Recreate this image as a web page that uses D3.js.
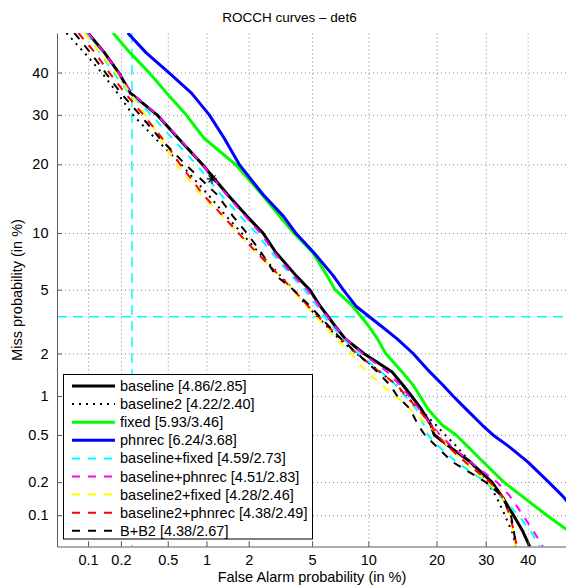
<!DOCTYPE html>
<html>
<head>
<meta charset="utf-8">
<script src="https://cdn.jsdelivr.net/npm/d3@7"></script>
<style>
  body { margin: 0; background: #fff; }
  svg { display: block; font-family: "Liberation Sans", Arial, Helvetica, sans-serif; }
</style>
</head>
<body>
<div id="det"></div>
<script>
// miss probabilities (in %) at which the curves were read
var missLevels = [50, 45, 40, 35, 30, 25, 20, 15, 12, 10, 8, 6, 5, 4, 3, 2.5, 2, 1.5, 1.2, 1,
                  0.8, 0.6, 0.5, 0.4, 0.3, 0.2, 0.15, 0.1, 0.07, 0.05];

// false alarm probabilities (in %) of every system, one per miss level
var baselineFa    = [0.1, 0.142, 0.191, 0.243, 0.408, 0.607, 0.93, 1.43, 1.95, 2.49, 3.01, 4.02, 4.84, 5.57, 6.76, 7.63, 9.49, 12.92, 14.51, 15.78,
                     17.35, 19.0, 19.6, 22.47, 26.6, 31.4, 33.7, 36.5, 38.8, 40.5];
var baseline2Fa   = [0.062, 0.092, 0.134, 0.186, 0.255, 0.393, 0.639, 1.03, 1.40, 1.79, 2.32, 3.22, 3.87, 4.69, 6.08, 7.06, 8.70, 11.40, 13.53, 14.93,
                     17.15, 19.88, 21.6, 23.9, 26.6, 30.26, 32.35, 34.44, 36.12, 37.1];
var fixedFa       = [0.17, 0.24, 0.35, 0.49, 0.70, 0.96, 1.62, 2.46, 3.19, 3.89, 5.03, 6.08, 6.73, 8.34, 10.07, 11.07, 12.1, 14.34, 16.05, 17.15,
                     18.47, 21.02, 23.7, 26.16, 29.38, 34.2, 38.56, 44.8, 50.6, null];
var phnrecFa      = [0.23, 0.33, 0.51, 0.77, 1.05, 1.35, 1.72, 2.5, 3.37, 4.0, 5.1, 6.57, 7.43, 8.67, 11.6, 13.66, 16.04, 18.76, 21.2, 23.1,
                     25.7, 29.2, 31.65, 35.5, 40, 45.3, 48.9, 53, null, null];
var blFixedFa     = [0.096, 0.129, 0.172, 0.236, 0.366, 0.542, 0.837, 1.28, 1.76, 2.25, 2.82, 3.77, 4.51, 5.35, 6.49, 7.43, 8.91, 11.52, 13.53, 14.79,
                     16.52, 17.79, 18.47, 20.44, 23.73, 30.0, 33.28, 37.7, 40.8, 43.06];
var blPhnrecFa    = [0.1, 0.142, 0.19, 0.25, 0.408, 0.615, 0.93, 1.40, 1.90, 2.39, 2.94, 3.87, 4.69, 5.50, 6.73, 7.7, 9.33, 12.28, 14.09, 15.4,
                     16.99, 19.0, 20.64, 22.95, 26.59, 32.58, 35.63, 38.8, 41.5, 43.8];
var bl2FixedFa    = [0.092, 0.131, 0.179, 0.241, 0.326, 0.434, 0.583, 0.915, 1.31, 1.70, 2.25, 3.17, 3.82, 4.63, 5.93, 6.81, 8.18, 9.75, 11.64, 13.40,
                     15.56, 18.47, 20.44, 22.18, 25.3, 30.49, 33.74, 35.63, 36.37, 37.1];
var bl2PhnrecFa   = [0.081, 0.116, 0.157, 0.218, 0.313, 0.451, 0.627, 0.946, 1.33, 1.70, 2.25, 3.17, 3.87, 4.75, 6.16, 7.25, 8.70, 11.28, 13.67, 14.93,
                     16.84, 19.0, 20.06, 22.18, 25.51, 30.95, 33.74, 35.63, 36.6, 37.3];
var bb2Fa         = [0.074, 0.105, 0.145, 0.2, 0.293, 0.43, 0.69, 1.2, 1.56, 1.94, 2.42, 3.02, 3.87, 4.87, 6.24, 7.25, 8.81, 11.04, 12.70, 13.67,
                     15.56, 16.84, 17.95, 20.06, 22.95, 30.0, 33.74, 35.88, 36.6, 37.1];

var legendLabels = ["baseline [4.86/2.85]", "baseline2 [4.22/2.40]", "fixed [5.93/3.46]", "phnrec [6.24/3.68]",
                    "baseline+fixed [4.59/2.73]", "baseline+phnrec [4.51/2.83]", "baseline2+fixed [4.28/2.46]",
                    "baseline2+phnrec [4.38/2.49]", "B+B2 [4.38/2.67]"];

// operating point (asterisk) and the cyan reference lines, in %
var markFa = 1.1, markMiss = 17.5;
var refFa = 0.25, refMiss = 3.45;

var tickValues = [0.1, 0.2, 0.5, 1, 2, 5, 10, 20, 30, 40];

// line styles, same order as the legend
var styles = [
    {color: "#000000", width: 3, dash: null},
    {color: "#000000", width: 2, dash: "2,5"},
    {color: "#00ff00", width: 3, dash: null},
    {color: "#0000ff", width: 3, dash: null},
    {color: "#00ffff", width: 2, dash: "8,8"},
    {color: "#ff00ff", width: 2, dash: "8,8"},
    {color: "#ffff00", width: 2, dash: "8,8"},
    {color: "#ff0000", width: 2, dash: "8,8"},
    {color: "#000000", width: 2, dash: "8,8"}
];

var seriesFa = [baselineFa, baseline2Fa, fixedFa, phnrecFa, blFixedFa, blPhnrecFa, bl2FixedFa, bl2PhnrecFa, bb2Fa];

// inverse of the normal cdf (Acklam), gives the DET warping
function probit(p) {
    var a = [-3.969683028665376e+01, 2.209460984245205e+02, -2.759285104469687e+02, 1.383577518672690e+02, -3.066479806614716e+01, 2.506628277459239e+00];
    var b = [-5.447609879822406e+01, 1.615858368580409e+02, -1.556989798598866e+02, 6.680131188771972e+01, -1.328068155288572e+01];
    var c = [-7.784894002430293e-03, -3.223964580411365e-01, -2.400758277161838e+00, -2.549732539343734e+00, 4.374664141464968e+00, 2.938163982698783e+00];
    var d = [7.784695709041462e-03, 3.224671290700398e-01, 2.445134137142996e+00, 3.754408661907416e+00];
    var q, r;
    if (p < 0.02425) {
        q = Math.sqrt(-2 * Math.log(p));
        return (((((c[0]*q + c[1])*q + c[2])*q + c[3])*q + c[4])*q + c[5]) / ((((d[0]*q + d[1])*q + d[2])*q + d[3])*q + 1);
    }
    if (p <= 1 - 0.02425) {
        q = p - 0.5; r = q * q;
        return (((((a[0]*r + a[1])*r + a[2])*r + a[3])*r + a[4])*r + a[5]) * q / (((((b[0]*r + b[1])*r + b[2])*r + b[3])*r + b[4])*r + 1);
    }
    q = Math.sqrt(-2 * Math.log(1 - p));
    return -(((((c[0]*q + c[1])*q + c[2])*q + c[3])*q + c[4])*q + c[5]) / ((((d[0]*q + d[1])*q + d[2])*q + d[3])*q + 1);
}
function pct(v) { return probit(v / 100); }

// set the dimensions and margins of the graph
var margin = {top: 33, left: 57},
    width = 510,
    height = 513.5;

var svg = d3.select("#det").append("svg")
    .attr("width", 566)
    .attr("height", 588);

var g = svg.append("g")
    .attr("transform", "translate(" + margin.left + "," + margin.top + ")");

// probit scales, 0.05% .. 50% on both axes
var x = d3.scaleLinear().domain([pct(0.05), pct(50)]).range([0, width]);
var y = d3.scaleLinear().domain([pct(0.05), pct(50)]).range([height, 0]);

var fmt = function(d) { return String(+(d).toFixed(2)); };

// dotted grid
g.append("g")
    .attr("class", "grid")
    .attr("transform", "translate(0," + height + ")")
    .call(d3.axisBottom(x).tickValues(tickValues.map(pct)).tickSize(-height).tickFormat(""));
g.append("g")
    .attr("class", "grid")
    .call(d3.axisLeft(y).tickValues(tickValues.map(pct)).tickSize(-width).tickFormat(""));
g.selectAll(".grid .domain").remove();
g.selectAll(".grid line")
    .attr("stroke", "#8c8c8c")
    .attr("stroke-width", 1)
    .attr("stroke-dasharray", "1,3");

g.append("clipPath").attr("id", "plotclip")
  .append("rect").attr("width", width).attr("height", height);

var plot = g.append("g").attr("clip-path", "url(#plotclip)");

// cyan reference lines
plot.append("line")
    .attr("x1", x(pct(refFa))).attr("x2", x(pct(refFa)))
    .attr("y1", 0).attr("y2", height)
    .attr("stroke", "#00ffff").attr("stroke-width", 1.5).attr("stroke-dasharray", "10,6");
plot.append("line")
    .attr("x1", 0).attr("x2", width)
    .attr("y1", y(pct(refMiss))).attr("y2", y(pct(refMiss)))
    .attr("stroke", "#00ffff").attr("stroke-width", 1.5).attr("stroke-dasharray", "10,6");

var line = d3.line()
    .defined(function(d) { return d.fa != null; })
    .x(function(d) { return x(pct(d.fa)); })
    .y(function(d) { return y(pct(d.miss)); });

seriesFa.forEach(function(fa, i) {
    var pts = fa.map(function(v, j) { return {fa: v, miss: missLevels[j]}; });
    plot.append("path")
        .datum(pts)
        .attr("fill", "none")
        .attr("stroke", styles[i].color)
        .attr("stroke-width", styles[i].width)
        .attr("stroke-dasharray", styles[i].dash)
        .attr("stroke-linejoin", "round")
        .attr("d", line);
});

// asterisk on the baseline curve
var mx = x(pct(markFa)), my = y(pct(markMiss)), r = 5;
plot.append("path")
    .attr("d", "M" + (mx - r) + "," + my + "H" + (mx + r) +
               "M" + mx + "," + (my - r) + "V" + (my + r) +
               "M" + (mx - r * 0.7) + "," + (my - r * 0.7) + "L" + (mx + r * 0.7) + "," + (my + r * 0.7) +
               "M" + (mx - r * 0.7) + "," + (my + r * 0.7) + "L" + (mx + r * 0.7) + "," + (my - r * 0.7))
    .attr("stroke", "#000").attr("stroke-width", 1.2).attr("fill", "none");

// add the x Axis
var xAxis = g.append("g")
    .attr("transform", "translate(0," + height + ")")
    .call(d3.axisBottom(x).tickValues(tickValues.map(pct))
        .tickSizeInner(-5).tickSizeOuter(0).tickPadding(8.5)
        .tickFormat(function(d, i) { return fmt(tickValues[i]); }));

// add the y Axis
var yAxis = g.append("g")
    .call(d3.axisLeft(y).tickValues(tickValues.map(pct))
        .tickSizeInner(-5).tickSizeOuter(0).tickPadding(8.5)
        .tickFormat(function(d, i) { return fmt(tickValues[i]); }));

[xAxis, yAxis].forEach(function(a) {
    a.select(".domain").attr("stroke", "#5a5a5a");
    a.selectAll(".tick line").attr("stroke", "#5a5a5a");
    a.selectAll(".tick text").attr("fill", "#000").style("font-size", "14.5px")
        .style("font-family", "'Liberation Sans', Arial, Helvetica, sans-serif");
});

// legend
var legend = svg.append("g");
legend.append("rect")
    .attr("x", 63.5).attr("y", 374.5)
    .attr("width", 249).attr("height", 164.5)
    .attr("fill", "#fff").attr("stroke", "#000").attr("stroke-width", 1);

legendLabels.forEach(function(label, i) {
    var ly = 386 + i * 18.1;
    legend.append("line")
        .attr("x1", 72).attr("x2", 115)
        .attr("y1", ly).attr("y2", ly)
        .attr("stroke", styles[i].color)
        .attr("stroke-width", styles[i].width)
        .attr("stroke-dasharray", styles[i].dash);
    legend.append("text")
        .attr("x", 120).attr("y", ly)
        .attr("dy", "0.35em")
        .style("font-size", "14.5px")
        .text(label);
});

// title and axis labels
svg.append("text")
    .attr("x", 289.5).attr("y", 22)
    .style("text-anchor", "middle")
    .style("font-size", "13.5px")
    .text("ROCCH curves \u2013 det6");

svg.append("text")
    .attr("x", 312).attr("y", 582)
    .style("text-anchor", "middle")
    .style("font-size", "14.5px")
    .text("False Alarm probability (in %)");

svg.append("text")
    .attr("transform", "translate(22,290) rotate(-90)")
    .style("text-anchor", "middle")
    .style("font-size", "14.5px")
    .text("Miss probability (in %)");
</script>
</body>
</html>
